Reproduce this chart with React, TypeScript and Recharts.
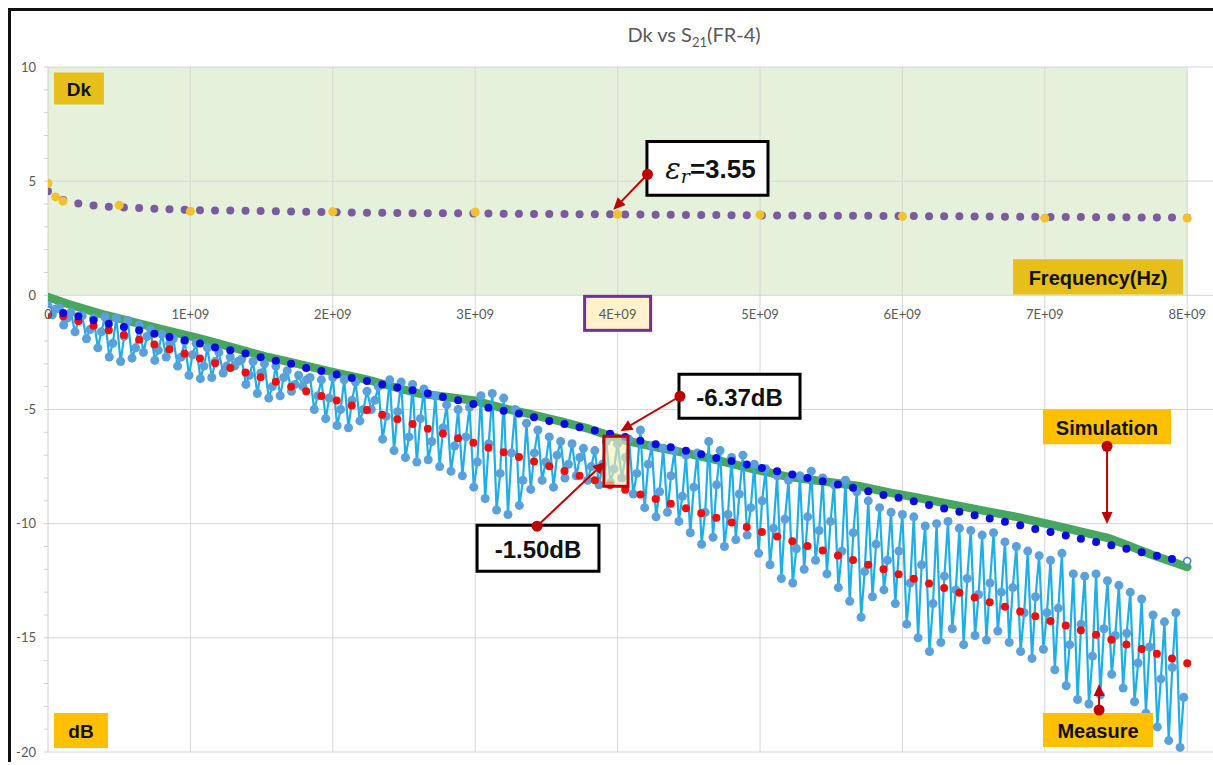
import {
  ComposedChart,
  Scatter,
  XAxis,
  YAxis,
  CartesianGrid,
  ReferenceArea,
  ReferenceLine,
  ReferenceDot,
} from "recharts"

// frequency sweep (GHz) shared by Dk, model and fit series
const gridGHz = [
  0, 0.107, 0.213, 0.32, 0.427, 0.533, 0.64, 0.747, 0.853, 0.96,
  1.067, 1.173, 1.28, 1.387, 1.493, 1.6, 1.707, 1.813, 1.92, 2.027,
  2.133, 2.24, 2.347, 2.453, 2.56, 2.667, 2.773, 2.88, 2.987, 3.093,
  3.2, 3.307, 3.413, 3.52, 3.627, 3.733, 3.84, 3.947, 4.053, 4.16,
  4.267, 4.373, 4.48, 4.587, 4.693, 4.8, 4.907, 5.013, 5.12, 5.227,
  5.333, 5.44, 5.547, 5.653, 5.76, 5.867, 5.973, 6.08, 6.187, 6.293,
  6.4, 6.507, 6.613, 6.72, 6.827, 6.933, 7.04, 7.147, 7.253, 7.36,
  7.467, 7.573, 7.68, 7.787, 7.893, 8.0,
]

// Dk (purple)
const dkValues = [
  4.56, 4.17, 4.02, 3.93, 3.88, 3.85, 3.82, 3.79, 3.77, 3.75,
  3.73, 3.72, 3.71, 3.7, 3.69, 3.68, 3.67, 3.66, 3.65, 3.64,
  3.63, 3.62, 3.62, 3.61, 3.6, 3.6, 3.59, 3.59, 3.58, 3.58,
  3.57, 3.57, 3.56, 3.56, 3.56, 3.55, 3.55, 3.55, 3.54, 3.54,
  3.53, 3.53, 3.52, 3.52, 3.52, 3.51, 3.51, 3.5, 3.5, 3.5,
  3.49, 3.49, 3.48, 3.48, 3.48, 3.47, 3.47, 3.47, 3.46, 3.46,
  3.46, 3.45, 3.45, 3.44, 3.44, 3.44, 3.43, 3.43, 3.43, 3.42,
  3.42, 3.42, 3.41, 3.41, 3.41, 3.4,
]

// Dk marker points (yellow)
const dkMarkGHz = [0, 0.054, 0.105, 0.5, 1, 2, 3, 4, 5, 6, 7, 8]
const dkMarkValues = [4.91, 4.31, 4.12, 3.95, 3.68, 3.66, 3.65, 3.55, 3.53, 3.46, 3.38, 3.38]

// model S21 (blue dots)
const modelDb = [
  -0.65, -0.77, -0.92, -1.09, -1.24, -1.39, -1.53, -1.68, -1.82, -1.97,
  -2.11, -2.28, -2.41, -2.55, -2.71, -2.86, -3.0, -3.18, -3.31, -3.47,
  -3.62, -3.75, -3.91, -4.04, -4.16, -4.3, -4.45, -4.6, -4.76, -4.92,
  -5.06, -5.18, -5.34, -5.5, -5.63, -5.78, -5.92, -6.06, -6.2, -6.37,
  -6.52, -6.65, -6.81, -6.96, -7.12, -7.26, -7.41, -7.56, -7.7, -7.85,
  -8.0, -8.14, -8.28, -8.43, -8.58, -8.74, -8.87, -9.02, -9.18, -9.34,
  -9.48, -9.63, -9.77, -9.92, -10.07, -10.23, -10.36, -10.52, -10.66, -10.8,
  -10.95, -11.1, -11.25, -11.41, -11.55, -11.63,
]

// measured fit (red dots)
const fitDb = [
  -0.85, -0.92, -1.12, -1.33, -1.53, -1.74, -1.95, -2.15, -2.36, -2.56,
  -2.77, -2.97, -3.18, -3.38, -3.59, -3.79, -4.0, -4.2, -4.41, -4.61,
  -4.82, -5.02, -5.23, -5.43, -5.64, -5.84, -6.05, -6.26, -6.46, -6.67,
  -6.87, -7.08, -7.28, -7.49, -7.69, -7.9, -8.1, -8.31, -8.51, -8.72,
  -8.92, -9.13, -9.33, -9.54, -9.74, -9.95, -10.15, -10.36, -10.56, -10.77,
  -10.98, -11.18, -11.39, -11.59, -11.8, -12.0, -12.21, -12.41, -12.62, -12.82,
  -13.03, -13.23, -13.44, -13.64, -13.85, -14.05, -14.26, -14.46, -14.67, -14.87,
  -15.08, -15.29, -15.49, -15.7, -15.9, -16.11,
]

// simulation S21 (green band)
const simGHz = [
  0, 0.13, 0.365, 0.6, 0.83, 1.07, 1.3, 1.54, 1.77, 2.0, 2.24, 2.47, 2.61,
  2.8, 3.0, 3.2, 3.4, 3.6, 3.8, 3.92, 4.05, 4.25, 4.5, 4.72, 4.96, 5.2,
  5.45, 5.69, 5.92, 6.08, 6.3, 6.55, 6.8, 7.06, 7.29, 7.44, 7.53, 7.76, 8.0,
]
const simDb = [
  -0.07, -0.36, -0.8, -1.17, -1.53, -1.9, -2.29, -2.7, -3.02, -3.36, -3.69, -4.08, -4.3,
  -4.45, -4.62, -4.95, -5.22, -5.52, -5.85, -6.1, -6.35, -6.62, -6.93, -7.25, -7.62, -7.95,
  -8.15, -8.35, -8.65, -8.83, -9.1, -9.41, -9.7, -10.07, -10.4, -10.62, -10.82, -11.38, -11.9,
]

// measured S21 (light blue): per 80 MHz bin a peak, a dip and a partial recovery
const measGHz = [
  0, 0.08, 0.16, 0.24, 0.32, 0.4, 0.48, 0.56, 0.64, 0.72,
  0.8, 0.88, 0.96, 1.04, 1.12, 1.2, 1.28, 1.36, 1.44, 1.52,
  1.6, 1.68, 1.76, 1.84, 1.92, 2.0, 2.08, 2.16, 2.24, 2.32,
  2.4, 2.48, 2.56, 2.64, 2.72, 2.8, 2.88, 2.96, 3.04, 3.12,
  3.2, 3.28, 3.36, 3.44, 3.52, 3.6, 3.68, 3.76, 3.84, 3.92,
  4.0, 4.08, 4.16, 4.24, 4.32, 4.4, 4.48, 4.56, 4.64, 4.72,
  4.8, 4.88, 4.96, 5.04, 5.12, 5.2, 5.28, 5.36, 5.44, 5.52,
  5.6, 5.68, 5.76, 5.84, 5.92, 6.0, 6.08, 6.16, 6.24, 6.32,
  6.4, 6.48, 6.56, 6.64, 6.72, 6.8, 6.88, 6.96, 7.04, 7.12,
  7.2, 7.28, 7.36, 7.44, 7.52, 7.6, 7.68, 7.76, 7.84, 7.92,
]
const measPeak = [
  -0.45, -0.55, -0.75, -0.9, -1.0, -0.95, -1.0, -1.1, -1.3, -1.5,
  -1.7, -1.9, -2.0, -2.1, -2.3, -2.5, -2.7, -2.8, -2.9, -3.0,
  -3.1, -3.3, -3.5, -3.6, -3.7, -3.6, -3.7, -3.8, -4.2, -4.0,
  -3.7, -3.8, -3.9, -4.1, -4.4, -4.8, -5.0, -4.9, -4.4, -4.3,
  -4.5, -5.0, -5.6, -5.9, -6.2, -6.4, -6.5, -6.7, -6.8, -6.4,
  -6.5, -6.3, -5.9, -6.6, -6.7, -6.8, -7.0, -6.9, -6.4, -6.8,
  -7.1, -7.0, -7.4, -7.6, -7.9, -8.1, -7.9, -7.7, -8.0, -8.3,
  -8.1, -8.6, -9.0, -9.3, -9.5, -9.6, -9.7, -10.1, -10.0, -9.9,
  -10.2, -10.3, -10.5, -10.4, -10.8, -11.0, -11.2, -11.4, -11.6, -11.3,
  -12.2, -12.3, -12.2, -12.5, -12.7, -13.0, -13.3, -14.0, -14.3, -13.9,
]
const measDip = [
  -0.85, -1.3, -1.6, -1.9, -2.3, -2.7, -2.9, -2.75, -2.5, -2.85,
  -2.7, -3.1, -3.5, -3.65, -3.6, -3.4, -3.1, -3.9, -4.3, -4.5,
  -4.4, -4.2, -4.0, -5.0, -5.4, -5.7, -5.8, -5.5, -5.0, -6.3,
  -6.8, -7.1, -7.3, -7.2, -7.5, -7.7, -7.9, -8.4, -8.9, -9.4,
  -9.6, -9.2, -8.5, -8.1, -8.4, -8.0, -7.9, -8.1, -8.3, -8.2,
  -8.0, -8.7, -9.3, -9.7, -9.5, -9.9, -10.4, -10.9, -10.6, -11.0,
  -10.7, -10.5, -11.3, -11.8, -12.4, -12.6, -12.0, -11.6, -12.2, -12.8,
  -13.4, -14.1, -13.2, -12.9, -13.5, -14.4, -15.0, -15.6, -15.2, -14.6,
  -15.3, -14.9, -15.1, -14.7, -15.2, -15.6, -15.9, -15.5, -16.4, -17.1,
  -17.7, -17.9, -17.5, -16.6, -17.2, -17.8, -18.3, -18.9, -19.5, -19.8,
]
const measMid = [
  -0.6, -1.0, -1.1, -1.5, -1.6, -2.1, -1.8, -2.3, -1.8, -2.4,
  -2.1, -2.7, -2.6, -3.1, -2.9, -3.1, -2.9, -3.5, -3.4, -4.0,
  -3.6, -3.9, -3.7, -4.4, -4.5, -5.0, -4.6, -5.0, -4.6, -5.3,
  -5.1, -6.2, -5.4, -6.4, -5.8, -6.6, -6.2, -7.3, -6.5, -7.8,
  -6.9, -8.1, -6.9, -7.3, -7.0, -7.4, -7.1, -7.5, -7.4, -7.6,
  -7.1, -7.8, -7.4, -8.6, -7.9, -8.8, -8.4, -9.5, -8.3, -9.6,
  -8.7, -9.3, -9.0, -10.2, -9.8, -11.1, -9.7, -10.3, -9.9, -11.2,
  -10.4, -12.1, -10.9, -11.6, -11.2, -12.6, -11.8, -13.5, -12.3, -12.9,
  -12.4, -13.1, -12.6, -13.0, -12.8, -13.9, -13.2, -13.9, -13.7, -15.3,
  -14.4, -15.8, -14.6, -14.9, -14.8, -16.1, -15.4, -16.8, -16.3, -17.6,
]

const xTicks = [0, 1e9, 2e9, 3e9, 4e9, 5e9, 6e9, 7e9, 8e9]
const xTickLabels = ["0", "1E+09", "2E+09", "3E+09", "4E+09", "5E+09", "6E+09", "7E+09", "8E+09"]
const yMajor = [-20, -15, -10, -5, 0, 5, 10]
const yTicks = [
  -20, -19, -18, -17, -16, -15, -14, -13, -12, -11, -10, -9, -8, -7, -6, -5,
  -4, -3, -2, -1, 0, 1, 2, 3, 4, 5, 6, 7, 8, 9, 10,
]

const toPts = (fs: number[], vs: number[]) => fs.map((f, i) => ({ f: f * 1e9, v: vs[i] }))

const dkData = toPts(gridGHz, dkValues)
const dkMarkData = toPts(dkMarkGHz, dkMarkValues)
const modelData = toPts(gridGHz, modelDb)
const fitData = toPts(gridGHz, fitDb)
const simData = toPts(simGHz, simDb)
const measData = measGHz.flatMap((f, i) => [
  { f: f * 1e9, v: measPeak[i] },
  { f: (f + 0.03) * 1e9, v: measDip[i] },
  { f: (f + 0.055) * 1e9, v: measMid[i] },
])

const TICK_FONT = "Lato, 'Open Sans', sans-serif"
const BOX_FONT = "'Liberation Sans', Arial, sans-serif"

const dot = (r: number, fill: string) => (p: any) => <circle cx={p.cx} cy={p.cy} r={r} fill={fill} />

const modelDot = (p: any) => {
  const hollow = p.index === 0 || p.index === modelData.length - 1
  return (
    <circle
      cx={p.cx}
      cy={p.cy}
      r={hollow ? 3.5 : 4}
      fill={hollow ? "#fff" : "#0b0be0"}
      stroke={hollow ? "#4a7fd8" : "none"}
      strokeWidth={1.5}
    />
  )
}

const boxText = (text: string, size: number) => (p: any) => {
  const vb = p.viewBox
  return (
    <text
      x={vb.x + vb.width / 2}
      y={vb.y + vb.height / 2 + 1}
      textAnchor="middle"
      dominantBaseline="central"
      fontFamily={BOX_FONT}
      fontWeight="bold"
      fontSize={size}
      fill="#111"
    >
      {text}
    </text>
  )
}

const epsText = (p: any) => {
  const vb = p.viewBox
  return (
    <text
      x={vb.x + vb.width / 2 + 3}
      y={vb.y + vb.height / 2 + 1}
      textAnchor="middle"
      dominantBaseline="central"
      fontFamily={BOX_FONT}
      fontWeight="bold"
      fontSize={26}
      fill="#111"
    >
      <tspan fontFamily="'DejaVu Serif', serif" fontStyle="italic" fontWeight="normal" fontSize={29}>
        ε
      </tspan>
      <tspan fontFamily="'DejaVu Serif', serif" fontStyle="italic" fontWeight="normal" fontSize={19} dy={7}>
        r
      </tspan>
      <tspan dy={-7}>=3.55</tspan>
    </text>
  )
}

const arrow = (p: any) => {
  const x1 = Number(p.x1)
  const y1 = Number(p.y1)
  const x2 = Number(p.x2)
  const y2 = Number(p.y2)
  const len = Math.hypot(x2 - x1, y2 - y1) || 1
  const ux = (x2 - x1) / len
  const uy = (y2 - y1) / len
  const head = 12
  const half = 5.5
  const bx = x2 - ux * head
  const by = y2 - uy * head
  return (
    <g>
      <line x1={x1} y1={y1} x2={bx} y2={by} stroke="#c00000" strokeWidth={2} />
      <polygon
        points={`${x2},${y2} ${bx - uy * half},${by + ux * half} ${bx + uy * half},${by - ux * half}`}
        fill="#c00000"
      />
      <circle cx={x1} cy={y1} r={5.5} fill="#c00000" />
    </g>
  )
}

const xLabel = (label: string, boxed: boolean) => (p: any) => (
  <g>
    {boxed && (
      <rect x={p.cx - 33} y={p.cy + 1} width={66} height={34} fill="#fff2cc" stroke="#7030a0" strokeWidth={3} />
    )}
    <text
      x={p.cx}
      y={p.cy + 19}
      textAnchor="middle"
      dominantBaseline="central"
      fontFamily={TICK_FONT}
      fontSize={13}
      fill="#595959"
    >
      {label}
    </text>
  </g>
)

export default function App() {
  return (
    <div
      style={{
        position: "fixed",
        left: 8,
        top: 8,
        width: 1202,
        height: 751,
        borderTop: "3px solid #111",
        borderLeft: "3px solid #111",
        background: "#fff",
        fontFamily: TICK_FONT,
      }}
    >
      <div
        style={{
          position: "absolute",
          left: 683,
          top: 11,
          transform: "translateX(-50%)",
          fontSize: 20,
          color: "#595959",
          whiteSpace: "nowrap",
          lineHeight: "24px",
        }}
      >
        Dk vs S<sub style={{ fontSize: 13, lineHeight: 0 }}>21</sub>(FR-4)
      </div>
      <ComposedChart width={1202} height={751} margin={{ top: 56, right: 0, bottom: 10, left: 7 }}>
        <ReferenceArea x1={0} x2={8e9} y1={0} y2={10} fill="#e5f1da" fillOpacity={1} stroke="none" zIndex={-150} />
        <CartesianGrid stroke="#d6d6d6" horizontalValues={yMajor} verticalValues={xTicks.slice(1)} />
        <XAxis dataKey="f" type="number" domain={[0, 8.181e9]} ticks={xTicks} allowDataOverflow hide />
        <YAxis
          dataKey="v"
          type="number"
          domain={[-20, 10]}
          ticks={yTicks}
          interval={0}
          allowDataOverflow
          width={30}
          tickSize={4}
          tickMargin={8}
          tickFormatter={(v: number) => (yMajor.includes(v) ? String(v) : "")}
          tick={{ fill: "#595959", fontSize: 13, fontFamily: TICK_FONT }}
          tickLine={{ stroke: "#d0d0d0" }}
          axisLine={{ stroke: "#d0d0d0" }}
        />

        <Scatter
          data={simData}
          line={{ stroke: "#47a660", strokeWidth: 8.5, strokeLinecap: "round", strokeLinejoin: "round" }}
          lineType="joint"
          shape={() => <g />}
          isAnimationActive={false}
        />
        <Scatter
          data={measData}
          line={{ stroke: "#1eaee8", strokeWidth: 2.2 }}
          lineType="joint"
          shape={dot(4.5, "#5aa0da")}
          isAnimationActive={false}
        />
        <Scatter data={fitData} shape={dot(4, "#f20d0d")} isAnimationActive={false} />
        <Scatter data={modelData} shape={modelDot} isAnimationActive={false} />
        <Scatter data={dkData} shape={dot(4, "#7a5c9e")} isAnimationActive={false} />
        <Scatter data={dkMarkData} shape={dot(4.5, "#f2c12e")} isAnimationActive={false} />

        {xTicks.map((t, i) => (
          <ReferenceDot
            key={t}
            x={t}
            y={0}
            r={0}
            ifOverflow="visible"
            zIndex={1900}
            shape={xLabel(xTickLabels[i], t === 4e9)}
          />
        ))}

        <ReferenceArea x1={0.042e9} x2={0.393e9} y1={9.76} y2={8.36} fill="#e6bf1a" fillOpacity={1} stroke="none" zIndex={2100} label={boxText("Dk", 19)} />
        <ReferenceArea x1={0.042e9} x2={0.421e9} y1={-18.29} y2={-19.83} fill="#ffc000" fillOpacity={1} stroke="none" zIndex={2100} label={boxText("dB", 19)} />
        <ReferenceArea x1={6.777e9} x2={7.971e9} y1={1.58} y2={0.04} fill="#e6bf1a" fillOpacity={1} stroke="none" zIndex={2100} label={boxText("Frequency(Hz)", 20)} />
        <ReferenceArea x1={6.987e9} x2={7.886e9} y1={-4.99} y2={-6.52} fill="#ffc000" fillOpacity={1} stroke="none" zIndex={2100} label={boxText("Simulation", 20)} />
        <ReferenceArea x1={6.987e9} x2={7.76e9} y1={-18.29} y2={-19.78} fill="#ffc000" fillOpacity={1} stroke="none" zIndex={2100} label={boxText("Measure", 20)} />

        <ReferenceArea x1={4.206e9} x2={5.056e9} y1={6.74} y2={4.38} fill="#fff" fillOpacity={1} stroke="#000" strokeWidth={3} zIndex={2100} label={epsText} />
        <ReferenceArea x1={4.431e9} x2={5.281e9} y1={-3.46} y2={-5.38} fill="#fff" fillOpacity={1} stroke="#000" strokeWidth={3} zIndex={2100} label={boxText("-6.37dB", 24)} />
        <ReferenceArea x1={3.013e9} x2={3.869e9} y1={-10.07} y2={-12.08} fill="#fff" fillOpacity={1} stroke="#000" strokeWidth={3} zIndex={2100} label={boxText("-1.50dB", 24)} />
        <ReferenceArea x1={3.904e9} x2={4.073e9} y1={-6.17} y2={-8.36} fill="#f4efb0" fillOpacity={0.6} stroke="#c00000" strokeWidth={3} zIndex={2100} />

        <ReferenceLine segment={[{ x: 4.21e9, y: 5.3 }, { x: 3.97e9, y: 3.75 }]} shape={arrow} ifOverflow="visible" zIndex={2200} />
        <ReferenceLine segment={[{ x: 4.438e9, y: -4.42 }, { x: 4.02e9, y: -5.95 }]} shape={arrow} ifOverflow="visible" zIndex={2200} />
        <ReferenceLine segment={[{ x: 3.434e9, y: -10.11 }, { x: 3.911e9, y: -7.3 }]} shape={arrow} ifOverflow="visible" zIndex={2200} />
        <ReferenceLine segment={[{ x: 7.437e9, y: -6.61 }, { x: 7.437e9, y: -10.02 }]} shape={arrow} ifOverflow="visible" zIndex={2200} />
        <ReferenceLine segment={[{ x: 7.381e9, y: -18.16 }, { x: 7.381e9, y: -17.02 }]} shape={arrow} ifOverflow="visible" zIndex={2200} />
      </ComposedChart>
    </div>
  )
}
